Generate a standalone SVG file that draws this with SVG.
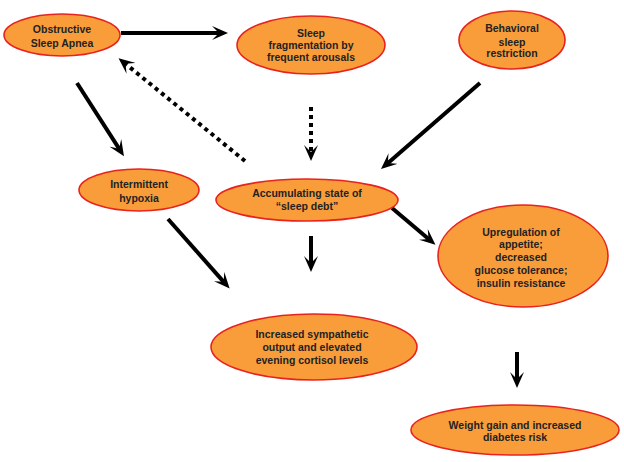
<svg xmlns="http://www.w3.org/2000/svg" width="624" height="462" viewBox="0 0 624 462">
<style>
.n ellipse{fill:#F99D3A;stroke:#E8231E;stroke-width:1.6}
.n text{font-family:"Liberation Sans",Arial,sans-serif;font-weight:bold;font-size:10.5px;fill:#222;text-anchor:middle}
.c line{stroke:#000;stroke-width:4;marker-end:url(#ah)}
.c .d{stroke-dasharray:4 4}
</style>
<defs>
<marker id="ah" viewBox="0 0 16 14" refX="9" refY="7" markerWidth="16" markerHeight="14" markerUnits="userSpaceOnUse" orient="auto">
<path d="M0,0 L16,7 L0,14 L7,7 Z" fill="#000"/>
</marker>
</defs>
<rect width="624" height="462" fill="#fff"/>
<g class="c" id="connectors">
<line x1="121" y1="33" x2="221" y2="33"/>
<line class="d" x1="245" y1="161" x2="124" y2="62.6"/>
<line class="d" x1="311" y1="107" x2="311" y2="154"/>
<line x1="480" y1="83" x2="386.3" y2="164.4"/>
<line x1="77" y1="83" x2="120.2" y2="150.4"/>
<line x1="168" y1="219" x2="225" y2="283.3"/>
<line x1="311" y1="236" x2="311" y2="265"/>
<line x1="392" y1="208" x2="430.1" y2="240.2"/>
<line x1="517" y1="352" x2="517" y2="381"/>
</g>
<g class="n" id="osa">
<ellipse cx="62" cy="35" rx="58" ry="21"/>
<text x="62" y="33">Obstructive</text>
<text x="62" y="47">Sleep Apnea</text>
</g>
<g class="n" id="frag">
<ellipse cx="311" cy="45" rx="74" ry="29"/>
<text x="311" y="37">Sleep</text>
<text x="311" y="49">fragmentation by</text>
<text x="311" y="61">frequent arousals</text>
</g>
<g class="n" id="behav">
<ellipse cx="512" cy="40" rx="53" ry="29"/>
<text x="512" y="32">Behavioral</text>
<text x="512" y="46">sleep</text>
<text x="512" y="57">restriction</text>
</g>
<g class="n" id="hypoxia">
<ellipse cx="139" cy="190" rx="60" ry="21"/>
<text x="139" y="188">Intermittent</text>
<text x="139" y="202">hypoxia</text>
</g>
<g class="n" id="debt">
<ellipse cx="307" cy="200" rx="91" ry="21"/>
<text x="307" y="197">Accumulating state of</text>
<text x="307" y="210">“sleep debt”</text>
</g>
<g class="n" id="upreg">
<ellipse cx="523" cy="256" rx="85" ry="51"/>
<text x="521" y="236">Upregulation of</text>
<text x="521" y="248">appetite;</text>
<text x="521" y="261">decreased</text>
<text x="521" y="274">glucose tolerance;</text>
<text x="521" y="287">insulin resistance</text>
</g>
<g class="n" id="symp">
<ellipse cx="314" cy="347" rx="103" ry="33"/>
<text x="312" y="338">Increased sympathetic</text>
<text x="312" y="351">output and elevated</text>
<text x="312" y="364">evening cortisol levels</text>
</g>
<g class="n" id="weight">
<ellipse cx="515" cy="430" rx="104" ry="25"/>
<text x="515" y="429">Weight gain and increased</text>
<text x="515" y="441">diabetes risk</text>
</g>
</svg>
